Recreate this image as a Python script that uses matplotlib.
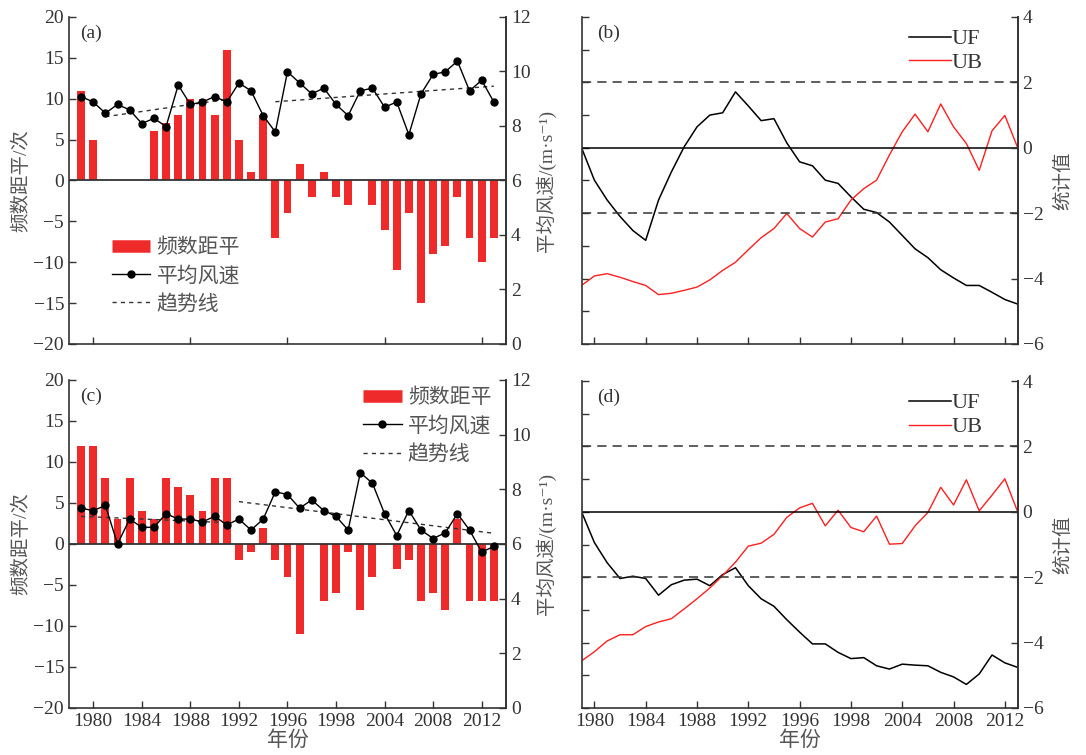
import numpy as np
import matplotlib
matplotlib.use("Agg")
import matplotlib.pyplot as plt
from matplotlib.lines import Line2D

plt.rcParams['font.family'] = ['Liberation Serif', 'Noto Sans CJK SC', 'DejaVu Sans']
plt.rcParams['axes.unicode_minus'] = True

years = np.arange(1979, 2014)

# (a) frequency anomaly and mean wind speed
freq_a = [11, 5, 0, 0, 0, 0, 6, 7, 8, 10, 10, 8, 16, 5, 1, 8, -7, -4, 2, -2,
          1, -2, -3, 0, -3, -6, -11, -4, -15, -9, -8, -2, -7, -10, -7]
wind_a = [9.08, 8.88, 8.47, 8.79, 8.59, 8.09, 8.28, 7.98, 9.50, 8.79, 8.88, 9.08,
          8.88, 9.58, 9.29, 8.38, 7.78, 9.99, 9.58, 9.18, 9.39, 8.79, 8.38, 9.29,
          9.39, 8.69, 8.88, 7.68, 9.18, 9.89, 9.99, 10.38, 9.29, 9.68, 8.88]
trend_a1_x = [1981, 1991]
trend_a1_y = [8.34, 8.98]
trend_a2_x = [1995, 2013]
trend_a2_y = [8.89, 9.46]

# (c)
freq_c = [12, 12, 8, 3, 8, 4, 3, 8, 7, 6, 4, 8, 8, -2, -1, 2, -2, -4, -11, 0,
          -7, -6, -1, -8, -4, 0, -3, -2, -7, -6, -8, 3, -7, -7, -7]
wind_c = [7.31, 7.22, 7.41, 6.00, 6.91, 6.61, 6.61, 7.11, 6.91, 6.91, 6.81, 7.01,
          6.70, 6.91, 6.51, 6.91, 7.91, 7.81, 7.31, 7.61, 7.22, 7.01, 6.51, 8.61,
          8.22, 7.11, 6.31, 7.22, 6.51, 6.20, 6.41, 7.11, 6.51, 5.70, 5.91]
trend_c1_x = [1979, 1991]
trend_c1_y = [7.01, 6.78]
trend_c2_x = [1992, 2013]
trend_c2_y = [7.55, 6.39]

# (b) Mann-Kendall UF / UB
uf_b = [0, -0.99, -1.6, -2.1, -2.53, -2.83, -1.6, -0.74, 0.03, 0.64, 1.0, 1.07,
        1.71, 1.28, 0.83, 0.89, 0.15, -0.43, -0.55, -0.99, -1.09, -1.5, -1.88,
        -1.98, -2.27, -2.68, -3.09, -3.36, -3.73, -3.98, -4.21, -4.21, -4.42,
        -4.64, -4.78]
ub_b = [-4.21, -3.92, -3.85, -3.96, -4.09, -4.21, -4.49, -4.45, -4.36, -4.26,
        -4.04, -3.75, -3.5, -3.12, -2.75, -2.47, -2.01, -2.47, -2.73, -2.27,
        -2.17, -1.6, -1.25, -0.99, -0.22, 0.49, 1.03, 0.49, 1.34, 0.64, 0.13,
        -0.69, 0.52, 0.99, 0]

# (d)
uf_d = [0, -0.94, -1.56, -2.04, -1.97, -2.04, -2.55, -2.23, -2.09, -2.06, -2.26,
        -1.92, -1.71, -2.26, -2.66, -2.89, -3.3, -3.68, -4.04, -4.04, -4.3,
        -4.49, -4.46, -4.71, -4.81, -4.66, -4.69, -4.71, -4.91, -5.05, -5.28,
        -4.96, -4.38, -4.62, -4.76]
ub_d = [-4.56, -4.28, -3.95, -3.76, -3.76, -3.51, -3.37, -3.27, -2.97, -2.66,
        -2.33, -1.95, -1.54, -1.05, -0.96, -0.69, -0.17, 0.12, 0.26, -0.43, 0.05,
        -0.48, -0.61, -0.13, -0.99, -0.97, -0.43, -0.02, 0.75, 0.21, 0.98, 0.03,
        0.51, 1.01, 0]

xticks = [1980, 1984, 1988, 1992, 1996, 2000, 2004, 2008, 2012]
xlabels = ['1980', '1984', '1988', '1992', '1996', '1998', '2004', '2008', '2012']

red = '#ee2a2a'
dark = '#333333'
cjk_gray = '#555555'

fig = plt.figure(figsize=(10.86, 7.55), dpi=100)

def style(ax):
    ax.spines['top'].set_visible(False)
    for s in ['left', 'right', 'bottom']:
        ax.spines[s].set_color(dark)
        ax.spines[s].set_linewidth(1.2)
    ax.tick_params(direction='in', length=5, width=1, colors=dark, labelsize=14)


def bar_panel(rect, freq, wind, trends, tag, bottom, leg_kw):
    ax = fig.add_axes(rect)
    ax.bar(years, freq, width=0.65, color=red, zorder=2)
    ax.axhline(0, color=dark, lw=1.3, zorder=3)
    ax.set_xlim(1978, 2014)
    ax.set_ylim(-20, 20)
    ax.set_yticks(range(-20, 21, 5))
    ax.set_ylabel('频数距平/次', fontsize=14, color=cjk_gray, labelpad=2)
    style(ax)
    ax2 = ax.twinx()
    ax2.plot(years, wind, '-o', color='k', lw=1, ms=5, zorder=4)
    for tx, ty in trends:
        ax2.plot(tx, ty, color=dark, lw=1, ls=(0, (3, 3)))
    ax2.set_ylim(0, 12)
    ax2.set_yticks(range(0, 13, 2))
    ax2.set_ylabel('平均风速/(m·s⁻¹)', fontsize=14, color=cjk_gray, labelpad=4)
    style(ax2)
    ax2.spines['left'].set_visible(False)
    ax2.spines['bottom'].set_visible(False)
    if bottom:
        ax.set_xticks(xticks)
        ax.set_xticklabels(xlabels)
        ax.set_xlabel('年份', fontsize=15, color=cjk_gray, labelpad=1)
    else:
        ax.set_xticks([1980, 1988, 1996, 2004, 2012])
        ax.set_xticklabels([])
    ax.text(0.025, 0.95, tag, transform=ax.transAxes, fontsize=14, color=dark,
            va='center', ha='left')
    handles = [Line2D([], [], color=red, lw=9, solid_capstyle='butt'),
               Line2D([], [], color='k', lw=1, marker='o', ms=5),
               Line2D([], [], color=dark, lw=1, ls=(0, (3, 3)))]
    leg = ax2.legend(handles, ['频数距平', '平均风速', '趋势线'], frameon=False,
                     fontsize=15, handlelength=1.85, handletextpad=0.3,
                     labelspacing=0.4, **leg_kw)
    for t in leg.get_texts():
        t.set_color(cjk_gray)
    return ax


def mk_panel(rect, uf, ub, tag, bottom):
    ax = fig.add_axes(rect)
    ax.plot(years, uf, color='k', lw=1.1, label='UF')
    ax.plot(years, ub, color='#ff1f1f', lw=1.0, label='UB')
    ax.axhline(0, color='k', lw=1.1)
    ax.axhline(2, color=dark, lw=1.1, ls=(0, (6, 4)))
    ax.axhline(-2, color=dark, lw=1.1, ls=(0, (6, 4)))
    ax.set_xlim(1979, 2013)
    ax.set_ylim(-6, 4)
    ax.set_yticks(range(-6, 5, 1))
    ax.set_yticklabels([])
    style(ax)
    ax2 = ax.twinx()
    ax2.set_ylim(-6, 4)
    ax2.set_yticks(range(-6, 5, 2))
    ax2.set_ylabel('统计值', fontsize=14, color=cjk_gray, labelpad=8)
    style(ax2)
    ax2.spines['left'].set_visible(False)
    ax2.spines['bottom'].set_visible(False)
    ax.set_xticks(xticks)
    if bottom:
        ax.set_xticklabels(xlabels)
        ax.set_xlabel('年份', fontsize=15, color=cjk_gray, labelpad=1)
    else:
        ax.set_xticklabels([])
    ax.text(0.035, 0.95, tag, transform=ax.transAxes, fontsize=14, color=dark,
            va='center', ha='left')
    leg = ax.legend(loc='upper right', bbox_to_anchor=(0.965, 1.025), frameon=False,
                    fontsize=16, handlelength=1.9, handletextpad=0.0,
                    labelspacing=0.15)
    for t in leg.get_texts():
        t.set_color(dark)
    return ax


bar_panel([0.0635, 0.5444, 0.4024, 0.4331], freq_a, wind_a,
          [(trend_a1_x, trend_a1_y), (trend_a2_x, trend_a2_y)], '(a)', False,
          dict(loc='upper left', bbox_to_anchor=(0.055, 0.38)))
bar_panel([0.0635, 0.0623, 0.4024, 0.4344], freq_c, wind_c,
          [(trend_c1_x, trend_c1_y), (trend_c2_x, trend_c2_y)], '(c)', True,
          dict(loc='upper left', bbox_to_anchor=(0.63, 1.03)))
mk_panel([0.5355, 0.5444, 0.4016, 0.4331], uf_b, ub_b, '(b)', False)
mk_panel([0.5355, 0.0623, 0.4016, 0.4330], uf_d, ub_d, '(d)', True)

fig.savefig('out.png', dpi=100)
